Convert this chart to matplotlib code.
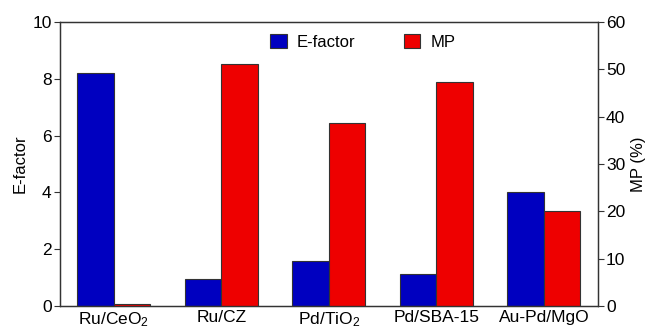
import matplotlib
matplotlib.use("Agg")
import matplotlib.pyplot as plt
import numpy as np

plt.rcParams['font.family'] = ['Liberation Sans', 'DejaVu Sans']
plt.rcParams['mathtext.default'] = 'regular'

catalysts = ["Ru/CeO$_2$", "Ru/CZ", "Pd/TiO$_2$", "Pd/SBA-15", "Au-Pd/MgO"]
e_factor = [8.22, 0.95, 1.58, 1.12, 4.01]
mp = [0.4, 51.2, 38.7, 47.4, 20.0]

x = np.arange(len(catalysts))
w = 0.34
fs = 12.5

fig, ax = plt.subplots(figsize=(6.51, 3.33), dpi=100)
fig.subplots_adjust(left=0.092, right=0.918, top=0.934, bottom=0.081)
ax2 = ax.twinx()

b1 = ax.bar(x - w / 2, e_factor, w, color="#0000c0", edgecolor="#333333", linewidth=0.8, label="E-factor")
b2 = ax2.bar(x + w / 2, mp, w, color="#ee0000", edgecolor="#333333", linewidth=0.8, label="MP")

ax.set_xlim(-0.5, 4.5)
ax.set_ylim(0, 10)
ax2.set_ylim(0, 60)
ax.set_yticks([0, 2, 4, 6, 8, 10])
ax2.set_yticks([0, 10, 20, 30, 40, 50, 60])
ax.set_xticks(x)
ax.set_xticklabels(catalysts, fontsize=fs)
ax.tick_params(axis="x", length=0, pad=3)
ax.tick_params(axis="y", direction="out", length=4, pad=2, labelsize=fs, color="#333333")
ax2.tick_params(axis="y", direction="out", length=4, pad=2, labelsize=fs, color="#333333")
ax.set_ylabel("E-factor", fontsize=12, labelpad=3)
ax2.set_ylabel("MP (%)", fontsize=12, labelpad=4)

for a in (ax, ax2):
    for s in a.spines.values():
        s.set_color("#333333")
        s.set_linewidth(0.9)

ax.legend([b1, b2], ["E-factor", "MP"], loc="upper center", ncol=2, frameon=False,
          fontsize=12, handlelength=1.0, handleheight=1.0, handletextpad=0.6,
          columnspacing=2.9, bbox_to_anchor=(0.563, 1.012))

fig.savefig("out.png", dpi=100)
